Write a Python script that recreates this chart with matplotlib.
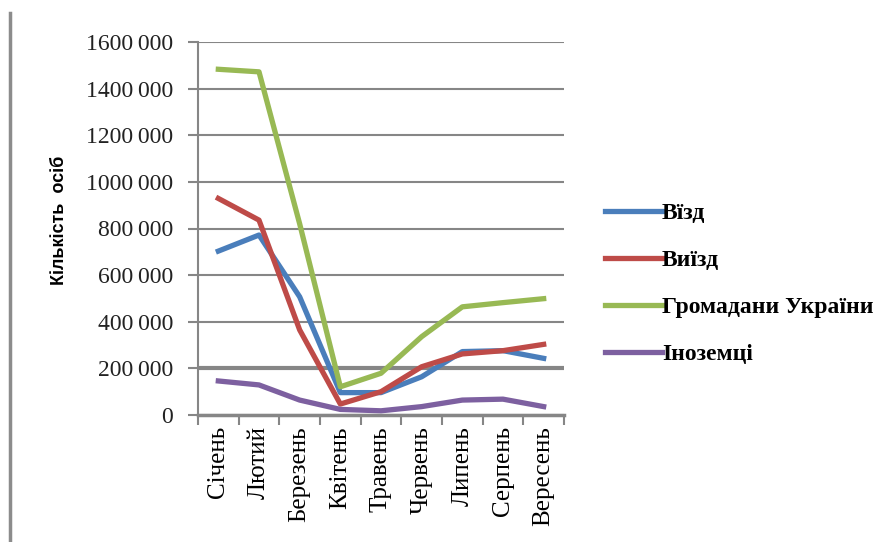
import matplotlib.pyplot as plt
from matplotlib.ticker import FuncFormatter

months = ['Січень', 'Лютий', 'Березень', 'Квітень', 'Травень',
          'Червень', 'Липень', 'Серпень', 'Вересень']
entry = [703000, 772000, 507000, 96000, 96000, 164000, 272000, 276000, 243000]
exit_ = [929000, 836000, 365000, 47000, 100000, 207000, 262000, 276000, 303000]
citizens = [1483000, 1472000, 820000, 121000, 179000, 336000, 464000, 482000, 499000]
foreigners = [146000, 129000, 64000, 24000, 18000, 36000, 64000, 68000, 36000]

labels = ['Вїзд', 'Виїзд', 'Громадани України', 'Іноземці']
colors = ['#4A7EBB', '#BE4B48', '#98B954', '#7D60A0']

plt.rcParams['font.family'] = ['Liberation Serif', 'DejaVu Serif']

fig = plt.figure(figsize=(8.85, 5.42), dpi=100)
ax = fig.add_axes([198 / 885, 1 - 415 / 542, 366 / 885, 373 / 542])

x = range(len(months))
for series, lab, col in zip([entry, exit_, citizens, foreigners], labels, colors):
    ax.plot(x, series, color=col, linewidth=3.8, label=lab)

ax.set_xlim(-0.5, len(months) - 0.5)
ax.set_ylim(0, 1600000)
ax.set_yticks(range(0, 1600001, 200000))
ax.yaxis.set_major_formatter(FuncFormatter(
    lambda v, p: '0' if v == 0 else f'{int(v) // 1000}\u2009000'))
ax.yaxis.grid(True, color='#868686', linewidth=1.5)
ax.get_ygridlines()[1].set_linewidth(3)
ax.set_axisbelow(True)

# category boundaries get the tick marks, names sit in between
ax.set_xticks([i - 0.5 for i in range(len(months) + 1)])
ax.set_xticklabels([])
ax.set_xticks(list(x), minor=True)
ax.set_xticklabels(months, minor=True, rotation=90, fontsize=18)
ax.tick_params(axis='x', which='major', length=7, width=1.5, color='#868686')
ax.tick_params(axis='x', which='minor', length=0, pad=8)
ax.tick_params(axis='y', length=7, width=1.5, color='#868686', labelsize=17, pad=11,
               labelcolor='#222222')

for side in ['top', 'right']:
    ax.spines[side].set_visible(False)
ax.spines['left'].set_color('#868686')
ax.spines['left'].set_linewidth(1.5)
ax.spines['bottom'].set_color('#868686')
ax.spines['bottom'].set_linewidth(2.5)

ax.set_ylabel('Кількість  осіб', fontsize=13, fontweight='bold',
              family=['Liberation Sans', 'DejaVu Sans'])
ax.yaxis.set_label_coords(-0.355, 0.523)

fig.legend(loc='upper left', bbox_to_anchor=(584 / 885, 1 - 181 / 542),
           frameon=False, prop={'size': 17, 'weight': 'bold'},
           handlelength=2.4, handletextpad=0.0, labelspacing=1.08)

fig.add_artist(plt.Line2D([10 / 885, 10 / 885], [0, 1 - 13 / 542],
                          color='#8c8c8c', linewidth=2.5))

fig.savefig('out.png', dpi=100)
